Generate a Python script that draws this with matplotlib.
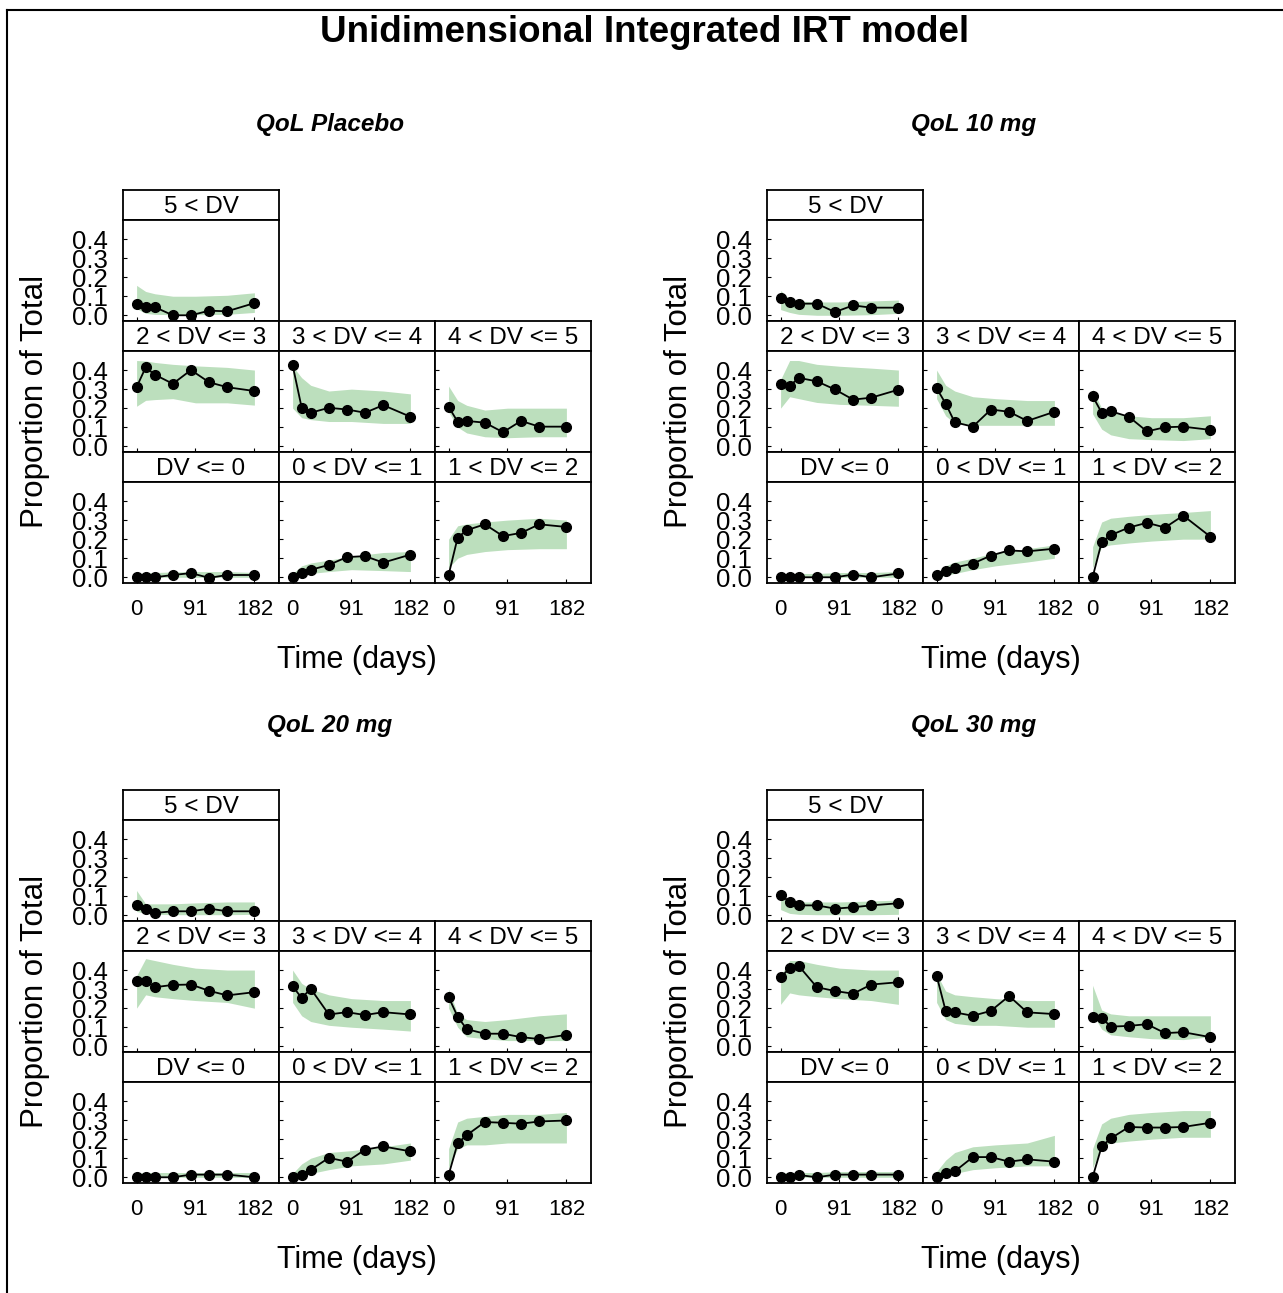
import matplotlib
matplotlib.use("Agg")
import matplotlib.pyplot as plt
from matplotlib.lines import Line2D

plt.rcParams['font.family'] = ['Liberation Sans', 'DejaVu Sans']

TIMES = [0, 14, 28, 56, 84, 112, 140, 182]
BAND_TIMES = [0, 14, 28, 56, 91, 140, 182]
CATEGORIES = ["5 < DV", "2 < DV <= 3", "3 < DV <= 4", "4 < DV <= 5",
              "DV <= 0", "0 < DV <= 1", "1 < DV <= 2"]
DOSES = ["QoL Placebo", "QoL 10 mg", "QoL 20 mg", "QoL 30 mg"]
X_TICKS = [0, 91, 182]
Y_TICKS = [0.0, 0.1, 0.2, 0.3, 0.4]

# Observed proportions (order follows CATEGORIES)
OBS_PLACEBO = [
    [0.061, 0.043, 0.043, 0.0, 0.0, 0.024, 0.021, 0.064],
    [0.31, 0.414, 0.376, 0.328, 0.40, 0.336, 0.31, 0.29],
    [0.426, 0.203, 0.176, 0.202, 0.193, 0.176, 0.216, 0.155],
    [0.207, 0.129, 0.133, 0.124, 0.074, 0.133, 0.103, 0.103],
    [0.0, 0.0, 0.0, 0.012, 0.022, -0.003, 0.012, 0.012],
    [0.0, 0.022, 0.039, 0.065, 0.106, 0.111, 0.077, 0.119],
    [0.012, 0.208, 0.247, 0.278, 0.216, 0.233, 0.278, 0.264],
]
OBS_10MG = [
    [0.09, 0.07, 0.061, 0.061, 0.017, 0.052, 0.04, 0.04],
    [0.328, 0.316, 0.359, 0.341, 0.298, 0.245, 0.255, 0.297],
    [0.305, 0.224, 0.126, 0.103, 0.193, 0.181, 0.133, 0.181],
    [0.264, 0.176, 0.184, 0.155, 0.078, 0.10, 0.103, 0.086],
    [0.0, 0.0, 0.0, 0.0, 0.0, 0.014, 0.0, 0.02],
    [0.012, 0.034, 0.051, 0.072, 0.114, 0.141, 0.136, 0.15],
    [0.0, 0.184, 0.221, 0.261, 0.286, 0.261, 0.324, 0.213],
]
OBS_20MG = [
    [0.052, 0.031, 0.012, 0.021, 0.021, 0.035, 0.021, 0.021],
    [0.345, 0.345, 0.31, 0.322, 0.324, 0.291, 0.267, 0.284],
    [0.316, 0.253, 0.302, 0.167, 0.179, 0.164, 0.179, 0.167],
    [0.259, 0.155, 0.09, 0.066, 0.066, 0.048, 0.038, 0.06],
    [0.0, 0.0, 0.0, 0.0, 0.014, 0.014, 0.014, 0.0],
    [0.0, 0.014, 0.039, 0.102, 0.082, 0.145, 0.162, 0.136],
    [0.012, 0.179, 0.221, 0.29, 0.286, 0.281, 0.293, 0.298],
]
OBS_30MG = [
    [0.108, 0.07, 0.052, 0.052, 0.035, 0.042, 0.052, 0.063],
    [0.362, 0.409, 0.422, 0.31, 0.29, 0.276, 0.324, 0.336],
    [0.371, 0.186, 0.178, 0.16, 0.186, 0.264, 0.178, 0.169],
    [0.155, 0.15, 0.103, 0.107, 0.116, 0.069, 0.074, 0.048],
    [0.0, 0.0, 0.012, 0.0, 0.014, 0.014, 0.014, 0.014],
    [0.0, 0.02, 0.031, 0.106, 0.106, 0.082, 0.094, 0.082],
    [0.0, 0.162, 0.204, 0.264, 0.261, 0.261, 0.264, 0.286],
]

# Prediction interval bands (at BAND_TIMES)
LO_PLACEBO = [
    [0.035, 0.01, 0.005, 0.003, 0.003, 0.005, 0.015],
    [0.21, 0.241, 0.245, 0.25, 0.228, 0.228, 0.216],
    [0.20, 0.15, 0.14, 0.13, 0.13, 0.12, 0.12],
    [0.18, 0.10, 0.07, 0.05, 0.045, 0.05, 0.05],
    [0.0, 0.0, 0.0, 0.0, 0.0, 0.0, 0.0],
    [0.0, 0.01, 0.02, 0.03, 0.04, 0.035, 0.03],
    [0.05, 0.10, 0.12, 0.135, 0.145, 0.15, 0.15],
]
HI_PLACEBO = [
    [0.157, 0.125, 0.113, 0.10, 0.10, 0.105, 0.118],
    [0.45, 0.448, 0.44, 0.43, 0.422, 0.414, 0.40],
    [0.42, 0.36, 0.32, 0.29, 0.30, 0.29, 0.275],
    [0.316, 0.24, 0.215, 0.19, 0.20, 0.20, 0.20],
    [0.02, 0.022, 0.025, 0.028, 0.03, 0.03, 0.025],
    [0.02, 0.06, 0.075, 0.09, 0.11, 0.13, 0.135],
    [0.20, 0.27, 0.28, 0.29, 0.30, 0.31, 0.30],
]
LO_10MG = [
    [0.03, 0.015, 0.005, 0.0, 0.0, 0.003, 0.01],
    [0.20, 0.26, 0.25, 0.23, 0.22, 0.215, 0.21],
    [0.25, 0.16, 0.12, 0.11, 0.11, 0.11, 0.11],
    [0.17, 0.09, 0.06, 0.04, 0.035, 0.03, 0.04],
    [0.0, 0.0, 0.0, 0.0, 0.0, 0.0, 0.0],
    [0.0, 0.01, 0.02, 0.04, 0.06, 0.08, 0.10],
    [0.05, 0.16, 0.17, 0.18, 0.19, 0.20, 0.20],
]
HI_10MG = [
    [0.13, 0.085, 0.075, 0.07, 0.07, 0.075, 0.08],
    [0.35, 0.45, 0.45, 0.43, 0.42, 0.41, 0.40],
    [0.40, 0.32, 0.29, 0.26, 0.25, 0.24, 0.24],
    [0.30, 0.20, 0.18, 0.16, 0.15, 0.15, 0.16],
    [0.02, 0.02, 0.02, 0.02, 0.025, 0.025, 0.03],
    [0.02, 0.06, 0.08, 0.10, 0.13, 0.15, 0.17],
    [0.16, 0.29, 0.31, 0.32, 0.33, 0.34, 0.35],
]
LO_20MG = [
    [0.02, 0.01, 0.005, 0.003, 0.003, 0.003, 0.005],
    [0.20, 0.27, 0.26, 0.25, 0.24, 0.23, 0.20],
    [0.23, 0.16, 0.13, 0.11, 0.10, 0.09, 0.08],
    [0.20, 0.10, 0.05, 0.04, 0.03, 0.03, 0.03],
    [0.0, 0.0, 0.0, 0.0, 0.0, 0.0, 0.0],
    [0.0, 0.01, 0.02, 0.04, 0.06, 0.07, 0.09],
    [0.05, 0.15, 0.17, 0.17, 0.18, 0.18, 0.18],
]
HI_20MG = [
    [0.13, 0.06, 0.06, 0.06, 0.065, 0.07, 0.07],
    [0.37, 0.46, 0.45, 0.43, 0.41, 0.40, 0.40],
    [0.40, 0.33, 0.30, 0.27, 0.25, 0.24, 0.24],
    [0.30, 0.17, 0.14, 0.13, 0.14, 0.16, 0.17],
    [0.02, 0.025, 0.025, 0.025, 0.025, 0.025, 0.025],
    [0.02, 0.07, 0.10, 0.13, 0.14, 0.16, 0.18],
    [0.15, 0.29, 0.31, 0.32, 0.33, 0.33, 0.34],
]
LO_30MG = [
    [0.03, 0.01, 0.005, 0.003, 0.003, 0.003, 0.005],
    [0.22, 0.28, 0.27, 0.26, 0.25, 0.24, 0.22],
    [0.23, 0.14, 0.12, 0.11, 0.11, 0.10, 0.10],
    [0.17, 0.09, 0.06, 0.05, 0.04, 0.035, 0.05],
    [0.0, 0.0, 0.0, 0.0, 0.0, 0.0, 0.0],
    [0.0, 0.01, 0.02, 0.04, 0.05, 0.06, 0.06],
    [0.05, 0.16, 0.18, 0.19, 0.20, 0.21, 0.21],
]
HI_30MG = [
    [0.10, 0.08, 0.07, 0.07, 0.07, 0.075, 0.08],
    [0.37, 0.45, 0.45, 0.43, 0.41, 0.40, 0.40],
    [0.38, 0.29, 0.27, 0.26, 0.25, 0.24, 0.24],
    [0.32, 0.19, 0.17, 0.16, 0.16, 0.16, 0.16],
    [0.02, 0.025, 0.025, 0.025, 0.03, 0.03, 0.03],
    [0.03, 0.09, 0.13, 0.16, 0.17, 0.18, 0.22],
    [0.15, 0.28, 0.31, 0.33, 0.34, 0.35, 0.35],
]

OBS = [OBS_PLACEBO, OBS_10MG, OBS_20MG, OBS_30MG]
LO = [LO_PLACEBO, LO_10MG, LO_20MG, LO_30MG]
HI = [HI_PLACEBO, HI_10MG, HI_20MG, HI_30MG]

W, H = 1283, 1293
fig = plt.figure(figsize=(W / 100, H / 100), dpi=100)
fig.patch.set_facecolor('white')

BAND_COLOR = '#bcdfbd'


def rect(x, y, w, h):
    return [x / W, 1 - (y + h) / H, w / W, h / H]


# (category index, row, col)
LAYOUT = [(0, 0, 0), (1, 1, 0), (2, 1, 1), (3, 1, 2), (4, 2, 0), (5, 2, 1), (6, 2, 2)]
OFFSETS = [(0, 0), (644, 0), (0, 600), (644, 600)]
COL_X = [123, 279, 435]
COL_W = 156
STRIP_H = 30
PANEL_H = 101
ROW_Y0 = 190
ROW_STEP = 131

for d, (dx, dy) in enumerate(OFFSETS):
    for (ci, r, c) in LAYOUT:
        x = COL_X[c] + dx
        ys = ROW_Y0 + r * ROW_STEP + dy
        # strip
        sax = fig.add_axes(rect(x, ys, COL_W, STRIP_H))
        sax.set_xticks([]); sax.set_yticks([])
        for s in sax.spines.values():
            s.set_linewidth(1.3)
        sax.text(0.5, 0.42, CATEGORIES[ci], ha='center', va='center',
                 fontsize=17.5, transform=sax.transAxes)
        # panel
        ax = fig.add_axes(rect(x, ys + STRIP_H, COL_W, PANEL_H))
        ax.fill_between(BAND_TIMES, LO[d][ci], HI[d][ci], color=BAND_COLOR,
                        linewidth=0)
        ax.plot(TIMES, OBS[d][ci], color='black', linewidth=1.3, marker='o',
                markersize=7, markerfacecolor='black', markeredgecolor='black')
        ax.set_xlim(-21, 220)
        ax.set_ylim(-0.03, 0.5)
        ax.set_xticks(X_TICKS)
        ax.set_yticks(Y_TICKS)
        ax.set_yticklabels([f"{v:.1f}" for v in Y_TICKS])
        ax.tick_params(direction='in', length=3, width=0.8)
        ax.tick_params(axis='y', labelsize=18.5, pad=11)
        ax.tick_params(axis='x', labelsize=16, pad=11.5)
        if c != 0:
            ax.tick_params(axis='y', labelleft=False)
        if r != 2:
            ax.tick_params(axis='x', labelbottom=False)
        for s in ax.spines.values():
            s.set_linewidth(1.3)

    # titles and axis labels per quadrant
    fig.text((330 + dx) / W, 1 - (125 + dy) / H, DOSES[d], ha='center', va='center',
             fontsize=17.5, fontweight='bold', fontstyle='italic')
    fig.text((357 + dx) / W, 1 - (660 + dy) / H, "Time (days)", ha='center',
             va='center', fontsize=22)
    fig.text((35 + dx) / W, 1 - (401 + dy) / H, "Proportion of Total", ha='center',
             va='center', rotation=90, fontsize=22.5)

fig.text(645 / W, 1 - 32 / H, "Unidimensional Integrated IRT model", ha='center',
         va='center', fontsize=26.5, fontweight='bold')

# outer frame
fig.add_artist(Line2D([7 / W, 1.0], [1 - 10 / H, 1 - 10 / H], color='black',
                      linewidth=1.5, transform=fig.transFigure))
fig.add_artist(Line2D([7 / W, 7 / W], [0.0, 1 - 10 / H], color='black',
                      linewidth=1.5, transform=fig.transFigure))

fig.savefig("out.png", dpi=100)
